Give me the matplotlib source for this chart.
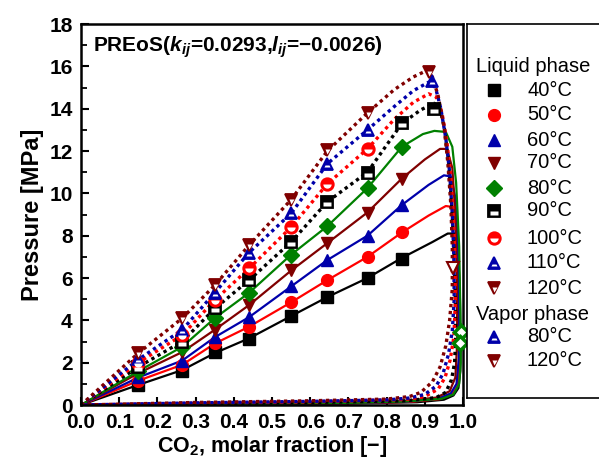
import matplotlib
matplotlib.use('Agg')
import matplotlib.pyplot as plt
from matplotlib.ticker import MultipleLocator

plt.rcParams['font.family'] = ['Liberation Sans', 'DejaVu Sans']
plt.rcParams['mathtext.fontset'] = 'custom'
plt.rcParams['mathtext.rm'] = 'Liberation Sans'
plt.rcParams['mathtext.it'] = 'Liberation Sans:italic'
plt.rcParams['mathtext.bf'] = 'Liberation Sans:bold'
plt.rcParams['mathtext.bfit'] = 'Liberation Sans:italic:bold'

# ---- data ----
temps = [40, 50, 60, 70, 80, 90, 100, 110, 120]
colors = ['#000000', '#ff0000', '#0000aa', '#800000', '#008000',
          '#000000', '#ff0000', '#0000aa', '#800000']
markers = ['s', 'o', '^', 'v', 'D', 's', 'o', '^', 'v']

x_liq = [0.15, 0.265, 0.35, 0.44, 0.55, 0.645, 0.75, 0.84]
p40 = [0.95, 1.6, 2.5, 3.1, 4.2, 5.1, 6.0, 6.9]
p50 = [1.15, 1.9, 2.93, 3.68, 4.87, 5.9, 7.0, 8.17]
p60 = [1.3, 2.1, 3.2, 4.15, 5.6, 6.85, 8.0, 9.45]
p70 = [1.5, 2.5, 3.55, 4.72, 6.38, 7.65, 9.07, 10.7]
p80 = [1.6, 2.75, 4.1, 5.3, 7.1, 8.45, 10.25, 12.2]
x90 = [0.15, 0.265, 0.35, 0.44, 0.55, 0.645, 0.75, 0.84, 0.925]
p90 = [1.8, 3.0, 4.58, 5.9, 7.7, 9.6, 10.95, 13.3, 14.0]
x100 = [0.15, 0.265, 0.35, 0.44, 0.55, 0.645, 0.75]
p100 = [2.0, 3.3, 4.96, 6.47, 8.4, 10.45, 12.1]
x110 = [0.15, 0.265, 0.35, 0.44, 0.55, 0.645, 0.75, 0.92]
p110 = [2.15, 3.55, 5.3, 7.2, 9.05, 11.4, 13.0, 15.3]
x120 = [0.15, 0.265, 0.35, 0.44, 0.55, 0.645, 0.75, 0.91]
p120 = [2.45, 4.1, 5.67, 7.56, 9.7, 12.05, 13.8, 15.75]

# vapour phase points
xv80 = [0.995, 0.993]
pv80 = [3.45, 2.93]
xv120 = [0.975]
pv120 = [6.47]

# PR EoS phase envelopes (bubble branch then dew branch)
env40_x = [0, 0.15, 0.265, 0.35, 0.44, 0.55, 0.645, 0.75, 0.84, 0.92, 0.96, 0.978,
           0.988, 0.992, 0.994, 0.993, 0.988, 0.975, 0.95, 0.88, 0.7, 0.4, 0.15, 0]
env40_p = [0, 0.95, 1.65, 2.45, 3.15, 4.2, 5.1, 6.0, 6.95, 7.7, 8.1, 8.1,
           7.0, 5.0, 3.0, 1.6, 0.8, 0.45, 0.25, 0.13, 0.07, 0.04, 0.02, 0]
env50_x = [0, 0.15, 0.265, 0.35, 0.44, 0.55, 0.645, 0.75, 0.84, 0.91, 0.955, 0.975,
           0.985, 0.99, 0.992, 0.991, 0.985, 0.97, 0.94, 0.86, 0.7, 0.4, 0.15, 0]
env50_p = [0, 1.15, 1.9, 2.9, 3.7, 4.85, 5.9, 7.0, 8.15, 8.95, 9.4, 9.35,
           8.2, 6.0, 3.5, 1.8, 0.9, 0.5, 0.28, 0.15, 0.08, 0.04, 0.02, 0]
env60_x = [0, 0.15, 0.265, 0.35, 0.44, 0.55, 0.645, 0.75, 0.84, 0.91, 0.95, 0.968,
           0.98, 0.986, 0.989, 0.989, 0.983, 0.968, 0.935, 0.85, 0.7, 0.4, 0.15, 0]
env60_p = [0, 1.3, 2.1, 3.2, 4.15, 5.6, 6.85, 8.0, 9.45, 10.4, 10.85, 10.8,
           9.8, 7.5, 4.5, 2.2, 1.0, 0.55, 0.3, 0.16, 0.09, 0.05, 0.02, 0]
env70_x = [0, 0.15, 0.265, 0.35, 0.44, 0.55, 0.645, 0.75, 0.84, 0.9, 0.94, 0.958,
           0.972, 0.98, 0.984, 0.985, 0.98, 0.965, 0.93, 0.84, 0.7, 0.4, 0.15, 0]
env70_p = [0, 1.5, 2.5, 3.55, 4.72, 6.35, 7.65, 9.1, 10.7, 11.6, 12.1, 12.1,
           11.2, 9.0, 6.0, 3.0, 1.3, 0.65, 0.35, 0.18, 0.1, 0.05, 0.02, 0]
env80_x = [0, 0.15, 0.265, 0.35, 0.44, 0.55, 0.645, 0.75, 0.84, 0.895, 0.925, 0.955,
           0.972, 0.982, 0.99, 0.993, 0.994, 0.99, 0.975, 0.945, 0.85, 0.7, 0.4, 0.15, 0]
env80_p = [0, 1.6, 2.75, 4.1, 5.3, 7.1, 8.45, 10.25, 12.2, 12.8, 12.95, 12.9,
           12.2, 10.5, 7.5, 4.5, 2.0, 1.0, 0.5, 0.3, 0.17, 0.1, 0.05, 0.02, 0]
env90_x = [0, 0.15, 0.265, 0.35, 0.44, 0.55, 0.645, 0.75, 0.84, 0.89, 0.925, 0.94,
           0.952, 0.962, 0.97, 0.976, 0.98, 0.981, 0.978, 0.97, 0.955, 0.93, 0.85,
           0.6, 0.3, 0]
env90_p = [0, 1.8, 3.0, 4.55, 5.9, 7.7, 9.6, 11.0, 13.3, 13.95, 14.25, 14.0,
           13.0, 11.5, 9.5, 7.5, 5.0, 3.3, 2.0, 1.2, 0.6, 0.35, 0.2,
           0.12, 0.06, 0]
env100_x = [0, 0.15, 0.265, 0.35, 0.44, 0.55, 0.645, 0.75, 0.82, 0.87, 0.91, 0.93,
            0.945, 0.958, 0.968, 0.975, 0.979, 0.98, 0.976, 0.966, 0.953, 0.935,
            0.9, 0.85, 0.6, 0.3, 0]
env100_p = [0, 2.0, 3.3, 4.95, 6.45, 8.4, 10.45, 12.1, 13.5, 14.3, 14.7, 14.55,
            13.8, 12.4, 10.8, 8.8, 6.8, 4.8, 3.2, 2.1, 1.3, 0.75,
            0.4, 0.26, 0.15, 0.08, 0]
env110_x = [0, 0.15, 0.265, 0.35, 0.44, 0.55, 0.645, 0.75, 0.82, 0.87, 0.91, 0.928,
            0.942, 0.955, 0.965, 0.972, 0.976, 0.977, 0.972, 0.962, 0.948, 0.93,
            0.9, 0.86, 0.8, 0.6, 0.3, 0]
env110_p = [0, 2.15, 3.55, 5.3, 7.2, 9.05, 11.4, 13.0, 14.1, 14.85, 15.25, 15.0,
            14.0, 12.6, 11.0, 9.0, 7.0, 5.0, 3.5, 2.4, 1.5, 0.9,
            0.5, 0.33, 0.24, 0.17, 0.1, 0]
env120_x = [0, 0.15, 0.265, 0.35, 0.44, 0.55, 0.645, 0.75, 0.82, 0.87, 0.905, 0.92,
            0.935, 0.95, 0.96, 0.968, 0.972, 0.972, 0.965, 0.955, 0.94, 0.92,
            0.89, 0.86, 0.8, 0.6, 0.3, 0]
env120_p = [0, 2.45, 4.1, 5.65, 7.55, 9.7, 12.0, 13.8, 14.9, 15.5, 15.8, 15.5,
            14.6, 13.2, 11.5, 9.5, 7.5, 5.5, 4.0, 2.8, 1.8, 1.1,
            0.6, 0.4, 0.28, 0.2, 0.12, 0]

liq_x = [x_liq, x_liq, x_liq, x_liq, x_liq, x90, x100, x110, x120]
liq_p = [p40, p50, p60, p70, p80, p90, p100, p110, p120]
env_x = [env40_x, env50_x, env60_x, env70_x, env80_x, env90_x, env100_x, env110_x, env120_x]
env_p = [env40_p, env50_p, env60_p, env70_p, env80_p, env90_p, env100_p, env110_p, env120_p]


def banded(axis, xs, ys, mk, col, z=3, clip=True):
    # coloured marker with a white band in its lower part
    inner = 4.8 if mk == '^' else 6
    axis.plot(xs, ys, linestyle='none', marker=mk, ms=9, color=col, mec=col,
              mew=1.3, zorder=z, clip_on=clip)
    axis.plot(xs, ys, linestyle='none', marker=mk, ms=inner, mfc='white',
              mec='none', fillstyle='bottom', markerfacecoloralt='none',
              zorder=z + 0.1, clip_on=clip)


fig = plt.figure(figsize=(5.99, 4.69), dpi=100)
ax = fig.add_axes([81 / 599, 64 / 469, 382 / 599, 381 / 469])

# model curves
for i, t in enumerate(temps):
    if t <= 80:
        ax.plot(env_x[i], env_p[i], color=colors[i], lw=1.6, zorder=2)
    else:
        ax.plot(env_x[i], env_p[i], color=colors[i], lw=2.4,
                linestyle=(0, (1.0, 1.1)), zorder=2)

# experimental points
for i, t in enumerate(temps):
    if t <= 80:
        ax.plot(liq_x[i], liq_p[i], linestyle='none', marker=markers[i], ms=8.5,
                color=colors[i], mec=colors[i], zorder=3, clip_on=False)
    else:
        banded(ax, liq_x[i], liq_p[i], markers[i], colors[i], clip=False)

ax.plot(xv80, pv80, linestyle='none', marker='D', ms=7.5, mfc='white',
        mec='#008000', mew=2.5, zorder=4, clip_on=False)
ax.plot(xv120, pv120, linestyle='none', marker='v', ms=9, mfc='white',
        mec='#800000', mew=1.5, zorder=4)

ax.set_xlim(0, 1.0)
ax.set_ylim(0, 18)
ax.set_xticks([i / 10 for i in range(11)])
ax.set_xticklabels(['%.1f' % (i / 10) for i in range(11)])
ax.yaxis.set_major_locator(MultipleLocator(2))
ax.yaxis.set_minor_locator(MultipleLocator(1))
ax.tick_params(axis='both', which='major', direction='in', length=6, width=1.5,
               labelsize=15, pad=6)
ax.tick_params(axis='y', which='minor', direction='in', length=4, width=1.3)
for lab in ax.get_xticklabels() + ax.get_yticklabels():
    lab.set_fontweight('bold')
for sp in ax.spines.values():
    sp.set_linewidth(1.8)

ax.set_xlabel(r'CO$_\mathbf{2}$, molar fraction [−]', fontsize=15.5,
              fontweight='bold', labelpad=1)
ax.set_ylabel('Pressure [MPa]', fontsize=17, fontweight='bold', labelpad=4)
ax.text(0.031, 0.94, r'PREoS($\mathbfit{k}_{\mathbfit{ij}}$=0.0293,$\mathbfit{l}_{\mathbfit{ij}}$=−0.0026)',
        transform=ax.transAxes, fontsize=15, fontweight='bold', va='center', ha='left')

# legend box (coordinates in figure pixels)
leg = fig.add_axes([467 / 599, 71 / 469, 140 / 599, 374 / 469])
leg.set_xlim(467, 607)
leg.set_ylim(398, 24)
leg.set_xticks([])
leg.set_yticks([])
for sp in leg.spines.values():
    sp.set_linewidth(1.2)

leg_rows = [90, 115, 140, 163, 188, 211, 238, 263, 288]
for i, t in enumerate(temps):
    if t <= 80:
        leg.plot([494], [leg_rows[i]], marker=markers[i], ms=8.5, color=colors[i],
                 linestyle='none')
    else:
        banded(leg, [494], [leg_rows[i]], markers[i], colors[i])
    leg.text(527, leg_rows[i], '%d°C' % t, fontsize=14.5, va='center', ha='left')

leg.text(476, 67, 'Liquid phase', fontsize=14.5, va='center', ha='left')
leg.text(476, 314, 'Vapor phase', fontsize=14.5, va='center', ha='left')
banded(leg, [494], [337], '^', '#0000aa')
leg.text(527, 337, '80°C', fontsize=14.5, va='center', ha='left')
banded(leg, [494], [361], 'v', '#800000')
leg.text(527, 361, '120°C', fontsize=14.5, va='center', ha='left')

fig.savefig('out.png', dpi=100)
